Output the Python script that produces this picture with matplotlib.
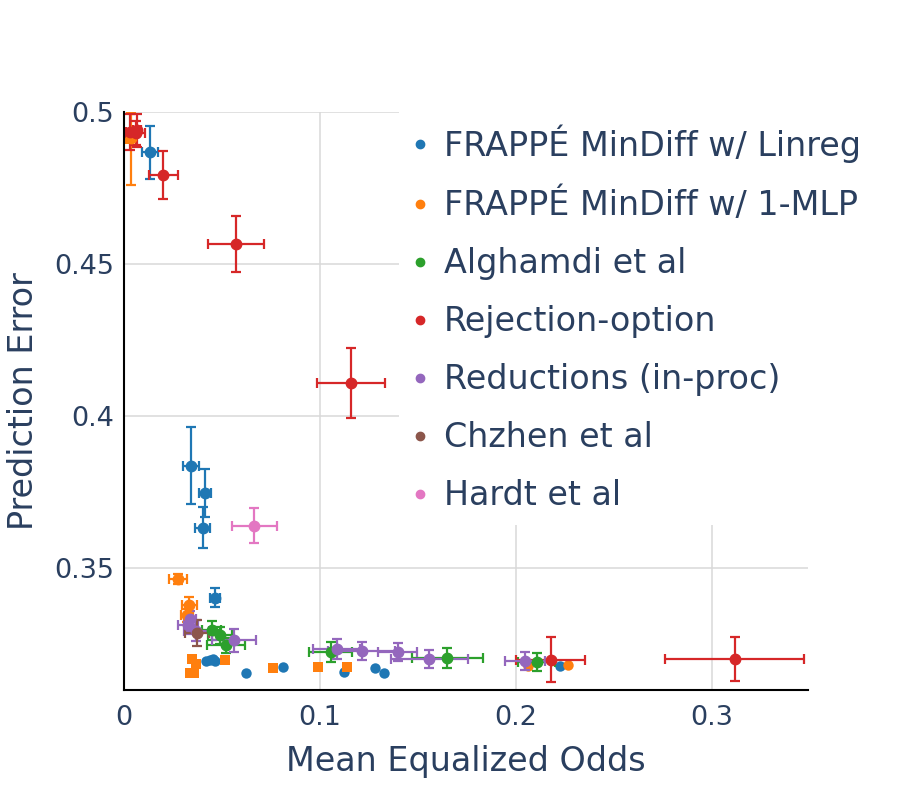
import matplotlib
matplotlib.use('Agg')
import matplotlib.pyplot as plt
from matplotlib.lines import Line2D

plt.rcParams['font.family'] = ['DejaVu Sans']

TEXT = '#2a3f5f'

labels = ['FRAPPÉ MinDiff w/ Linreg', 'FRAPPÉ MinDiff w/ 1-MLP', 'Alghamdi et al',
          'Rejection-option', 'Reductions (in-proc)', 'Chzhen et al', 'Hardt et al']
colors = ['#1f77b4', '#ff7f0e', '#2ca02c', '#d62728', '#9467bd', '#8c564b', '#e377c2']

# FRAPPE MinDiff w/ Linreg
linreg_x = [0.0134, 0.0342, 0.0413, 0.0401, 0.0464]
linreg_y = [0.4867, 0.3837, 0.3748, 0.3634, 0.3404]
linreg_xerr = [0.004, 0.0039, 0.0029, 0.004, 0.0027]
linreg_yerr = [0.0088, 0.0126, 0.0079, 0.0068, 0.003]
linreg_pts_x = [0.0418, 0.0440, 0.0455, 0.0462, 0.0622, 0.081, 0.1122, 0.1281, 0.1328, 0.2224]
linreg_pts_y = [0.3195, 0.3198, 0.3201, 0.3196, 0.3157, 0.3176, 0.3159, 0.3173, 0.3156, 0.3178]

# FRAPPE MinDiff w/ 1-MLP
mlp_x = [0.0035, 0.0277, 0.0333, 0.032]
mlp_y = [0.4915, 0.3464, 0.338, 0.3345]
mlp_xerr = [0.0015, 0.0045, 0.0037, 0.003]
mlp_yerr_lo = [0.0155, 0.0016, 0.0027, 0.002]
mlp_yerr_hi = [0.0082, 0.0016, 0.0027, 0.002]
mlp_sq_x = [0.002, 0.0345, 0.0367, 0.0335, 0.0355, 0.0515, 0.0762, 0.0991, 0.1136]
mlp_sq_y = [0.491, 0.3203, 0.3186, 0.3155, 0.3155, 0.3197, 0.3172, 0.3176, 0.3176]
mlp_pts_x = [0.2063, 0.2267]
mlp_pts_y = [0.3178, 0.3181]

# Alghamdi et al
alg_x = [0.0447, 0.049, 0.052, 0.1054, 0.165, 0.2105]
alg_y = [0.3296, 0.328, 0.3247, 0.3225, 0.3205, 0.3192]
alg_xerr = [0.005, 0.006, 0.0098, 0.0108, 0.018, 0.0094]
alg_yerr = [0.003, 0.0028, 0.0025, 0.0033, 0.0032, 0.0031]

# Rejection-option
rej_x = [0.003, 0.0066, 0.006, 0.020, 0.0571, 0.1158, 0.2177, 0.3117]
rej_y = [0.4935, 0.494, 0.4932, 0.4793, 0.4566, 0.411, 0.32, 0.3201]
rej_xerr = [0.002, 0.002, 0.0048, 0.0074, 0.0143, 0.0173, 0.0176, 0.0355]
rej_yerr = [0.006, 0.0055, 0.004, 0.008, 0.0091, 0.0115, 0.0075, 0.0073]

# Reductions (in-proc)
red_x = [0.0337, 0.0328, 0.0368, 0.0561, 0.1085, 0.1213, 0.1396, 0.1558, 0.2046]
red_y = [0.3334, 0.3313, 0.3295, 0.3263, 0.3234, 0.3228, 0.3225, 0.3201, 0.3195]
red_xerr = [0.003, 0.005, 0.0064, 0.0112, 0.012, 0.017, 0.010, 0.0197, 0.0102]
red_yerr = [0.0025, 0.003, 0.0035, 0.0037, 0.0033, 0.0031, 0.003, 0.0029, 0.003]

# Chzhen et al
chz_x = [0.0371]
chz_y = [0.3287]
chz_xerr = [0.0062]
chz_yerr = [0.0044]

# Hardt et al
hardt_x = [0.0665]
hardt_y = [0.364]
hardt_xerr = [0.0116]
hardt_yerr = [0.0057]

fig = plt.figure(figsize=(9, 7.87), dpi=100)
ax = fig.add_axes([124 / 900, 1 - 690 / 787, (808 - 124) / 900, (690 - 112) / 787])

ebkw = dict(fmt='o', markersize=7.5, elinewidth=1.6, capsize=3.3, capthick=1.6)

# blue
ax.plot(linreg_pts_x, linreg_pts_y, 'o', color=colors[0], markersize=7.5, markeredgewidth=0)
ax.errorbar(linreg_x, linreg_y, xerr=linreg_xerr, yerr=linreg_yerr, color=colors[0], **ebkw)
# orange
ax.plot(mlp_sq_x, mlp_sq_y, 's', color=colors[1], markersize=7, markeredgewidth=0)
ax.plot(mlp_pts_x, mlp_pts_y, 'o', color=colors[1], markersize=7.5, markeredgewidth=0)
ax.errorbar(mlp_x, mlp_y, xerr=mlp_xerr, yerr=[mlp_yerr_lo, mlp_yerr_hi], color=colors[1], **ebkw)
# others
ax.errorbar(alg_x, alg_y, xerr=alg_xerr, yerr=alg_yerr, color=colors[2], **ebkw)
ax.errorbar(rej_x, rej_y, xerr=rej_xerr, yerr=rej_yerr, color=colors[3], **ebkw)
ax.errorbar(red_x, red_y, xerr=red_xerr, yerr=red_yerr, color=colors[4], **ebkw)
ax.errorbar(chz_x, chz_y, xerr=chz_xerr, yerr=chz_yerr, color=colors[5], **ebkw)
ax.errorbar(hardt_x, hardt_y, xerr=hardt_xerr, yerr=hardt_yerr, color=colors[6], **ebkw)

ax.set_xlim(0, 0.349)
ax.set_ylim(0.31, 0.5)
ax.set_xticks([0, 0.1, 0.2, 0.3])
ax.set_xticklabels(['0', '0.1', '0.2', '0.3'])
ax.set_yticks([0.35, 0.4, 0.45, 0.5])
ax.set_yticklabels(['0.35', '0.4', '0.45', '0.5'])
ax.grid(True, color='#d9d9d9', linewidth=1.1)
ax.set_axisbelow(True)
for s in ['top', 'right']:
    ax.spines[s].set_visible(False)
for s in ['left', 'bottom']:
    ax.spines[s].set_color('black')
    ax.spines[s].set_linewidth(1.5)
ax.tick_params(axis='both', length=0, labelsize=19.5, colors=TEXT)
ax.tick_params(axis='x', pad=11)
ax.tick_params(axis='y', pad=7)

ax.set_xlabel('Mean Equalized Odds', fontsize=24, color=TEXT, labelpad=10)
ax.set_ylabel('Prediction Error', fontsize=24, color=TEXT, labelpad=10)

handles = [Line2D([], [], marker='o', linestyle='', color=c, markersize=6) for c in colors]
leg = ax.legend(handles, labels, loc='upper left', bbox_to_anchor=(0.402, 1.0),
                fontsize=24, frameon=True, fancybox=False, framealpha=1,
                edgecolor='white', facecolor='white', labelcolor=TEXT,
                handlelength=0.5, handletextpad=0.48, labelspacing=0.75,
                borderpad=0.37, borderaxespad=0)
leg.get_frame().set_linewidth(0)
leg.set_clip_on(False)

plt.savefig('out.png', dpi=100)
